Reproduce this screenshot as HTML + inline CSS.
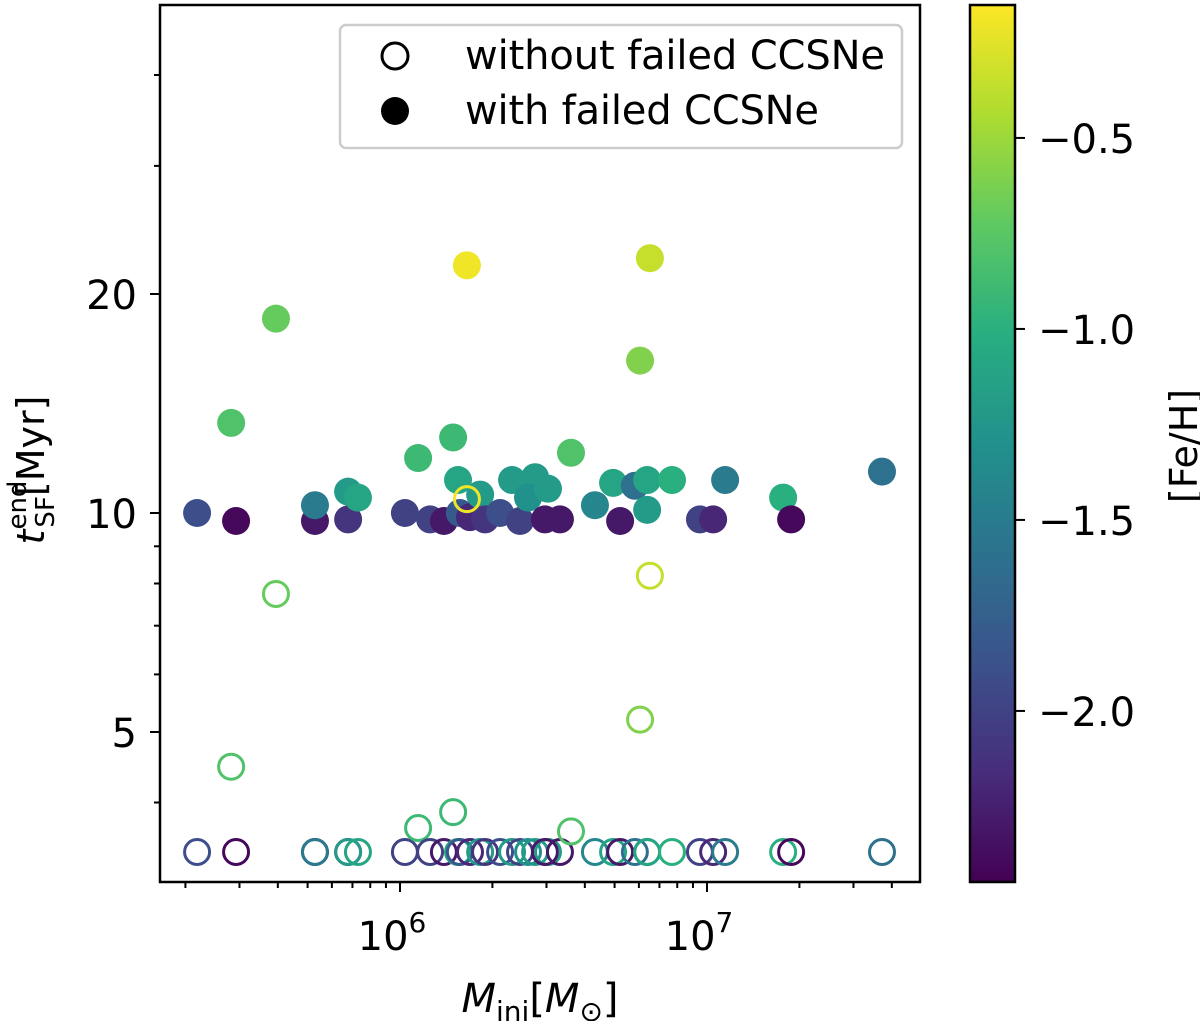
<!DOCTYPE html>
<html><head><meta charset="utf-8"><style>
body{margin:0;background:#fff}
svg text{font-family:"DejaVu Sans","Liberation Sans",sans-serif;fill:#000}
</style></head><body>
<svg id="chart" width="1200" height="1021" viewBox="0 0 1200 1021">
<defs>
<linearGradient id="vir" x1="0" y1="1" x2="0" y2="0">
<stop offset="0" stop-color="#440154"/><stop offset="0.125" stop-color="#472d7b"/><stop offset="0.25" stop-color="#3b528b"/><stop offset="0.375" stop-color="#2c728e"/><stop offset="0.5" stop-color="#21918c"/><stop offset="0.625" stop-color="#28ae80"/><stop offset="0.75" stop-color="#5ec962"/><stop offset="0.875" stop-color="#addc30"/><stop offset="1" stop-color="#fde725"/>
</linearGradient>
<clipPath id="clip"><rect x="160" y="5" width="760" height="877"/></clipPath>
</defs>
<g id="marks" clip-path="url(#clip)"></g>
<g id="axes"></g>
<rect x="160" y="5" width="760" height="877" fill="none" stroke="#000" stroke-width="2.5"/>
<g>
<rect x="340" y="25" width="562" height="123" rx="6" fill="#fff" fill-opacity="0.85" stroke="#ccc" stroke-width="2.5"/>
<circle cx="395" cy="56" r="13" fill="none" stroke="#000" stroke-width="3"/>
<text x="465" y="69" font-size="40" textLength="420">without failed CCSNe</text>
<circle cx="395" cy="111" r="14" fill="#000"/>
<text x="465" y="124" font-size="40" textLength="354">with failed CCSNe</text>
</g>
<rect x="970" y="5" width="45" height="877" fill="url(#vir)" stroke="#000" stroke-width="2.5"/>
<g id="cbar"></g>
<text transform="translate(1197,446) rotate(-90)" text-anchor="middle" font-size="38">[Fe/H]</text>
<text x="540" y="1012" text-anchor="middle" font-size="40"><tspan font-style="italic">M</tspan><tspan font-size="28" dy="9">ini</tspan><tspan dy="-9">[</tspan><tspan font-style="italic">M</tspan><tspan font-size="28" dy="9">⊙</tspan><tspan dy="-9">]</tspan></text>
<text transform="translate(44,470) rotate(-90)" text-anchor="middle" font-size="38"><tspan font-style="italic">t</tspan><tspan font-size="26" dy="-18">end</tspan><tspan font-size="26" dx="-47" dy="28">SF</tspan><tspan dy="-10">[Myr]</tspan></text>
</svg>
<script>
const logMassFilled=[5.339,5.466,5.596,5.450,5.723,5.723,5.831,5.831,5.863,6.016,6.059,6.098,6.143,6.173,6.189,6.218,6.195,6.228,6.261,6.277,6.326,6.365,6.391,6.440,6.417,6.482,6.472,6.521,6.557,6.635,6.694,6.717,6.765,6.782,6.814,6.805,6.805,6.886,6.977,7.020,7.059,7.248,7.274,7.570];
const tendFilled=[10,9.75,18.5,13.3,9.75,10.25,9.8,10.7,10.5,10,11.9,9.8,9.75,12.7,11.1,21.9,10,9.87,10.6,9.8,10,11.1,9.75,11.2,10.5,10.8,9.8,9.8,12.1,10.25,11.0,9.75,10.9,16.2,22.4,10.1,11.1,11.1,9.8,9.8,11.1,10.5,9.8,11.4];
const fehFilled=[-1.9,-2.4,-0.7,-0.8,-2.3,-1.5,-2.1,-1.2,-1.1,-2.0,-0.9,-2.0,-2.3,-0.9,-1.1,-0.2,-1.8,-2.2,-1.2,-2.1,-1.9,-1.2,-2.0,-1.2,-1.3,-1.2,-2.3,-2.3,-0.8,-1.4,-1.1,-2.3,-1.6,-0.6,-0.35,-1.2,-1.1,-1.0,-2.0,-2.2,-1.5,-1.0,-2.4,-1.6];
const tendOpen=[3.42,3.42,7.74,4.48,3.42,3.42,3.42,3.42,3.42,3.42,3.69,3.42,3.42,3.88,3.42,10.45,3.42,3.42,3.42,3.42,3.42,3.42,3.42,3.42,3.42,3.42,3.42,3.42,3.65,3.42,3.42,3.42,3.42,5.2,8.2,3.42,3.42,3.42,3.42,3.42,3.42,3.42,3.42,3.42];
const xTicks=[6,7];
const xTickLabels=["10","10"];
const yTicks=[5,10,20];
const yMinor=[3,4,6,7,8,9,30,40];
const cbarTicks=[-0.5,-1.0,-1.5,-2.0];
const cbarTickLabels=["−0.5","−1.0","−1.5","−2.0"];
const X=lm=>400+(lm-6)*307;
const Y=t=>513-Math.log10(t/10)*727.5;
const C=v=>5+(-0.152-v)*382;
const vstops=[[68,1,84],[71,45,123],[59,82,139],[44,114,142],[33,145,140],[40,174,128],[94,201,98],[173,220,48],[253,231,37]];
function vir(f){const lo=-2.448,hi=-0.152;let s=Math.max(0,Math.min(1,(f-lo)/(hi-lo)))*8;const i=Math.min(7,Math.floor(s)),r=s-i;const a=vstops[i],b=vstops[i+1];return `rgb(${a.map((v,k)=>Math.round(v+(b[k]-v)*r)).join(',')})`;}
const NS="http://www.w3.org/2000/svg";
function mk(tag,at,parent){const e=document.createElementNS(NS,tag);for(const k in at)e.setAttribute(k,at[k]);parent.appendChild(e);return e;}
const marks=document.getElementById('marks'),axes=document.getElementById('axes'),cb=document.getElementById('cbar');
logMassFilled.forEach((m,i)=>{const c=mk('circle',{cx:X(m),cy:Y(tendFilled[i]),r:14,fill:vir(fehFilled[i])},marks);

});
logMassFilled.forEach((m,i)=>{const c=mk('circle',{cx:X(m),cy:Y(tendOpen[i]),r:12.5,fill:'none',stroke:vir(fehFilled[i]),'stroke-width':3},marks);

});
for(let d=5;d<=7;d++)for(let k=1;k<10;k++){const lm=d+Math.log10(k);const x=X(lm);if(x<162||x>918)continue;const L=k==1?10:6;
const t=mk('line',{x1:x,x2:x,y1:882,y2:882+L,stroke:'#000','stroke-width':2},axes);

}
xTicks.forEach((v,i)=>{const t=mk('text',{x:X(v)-8,y:950,'text-anchor':'middle','font-size':40},axes);t.textContent=xTickLabels[i];
const s=mk('tspan',{dy:-18,'font-size':28},t);s.textContent=String(v);

});
yTicks.forEach(v=>{const y=Y(v);mk('line',{x1:150,x2:160,y1:y,y2:y,stroke:'#000','stroke-width':2},axes);
const t=mk('text',{x:137,y:y+15,'text-anchor':'end','font-size':40},axes);t.textContent=v;

});
yMinor.forEach(v=>{const y=Y(v);if(y<6||y>881)return;const l=mk('line',{x1:154,x2:160,y1:y,y2:y,stroke:'#000','stroke-width':2},axes);

});
cbarTicks.forEach((v,i)=>{const y=C(v);mk('line',{x1:1015,x2:1025,y1:y,y2:y,stroke:'#000','stroke-width':2},cb);
const t=mk('text',{x:1038,y:y+15,'font-size':40},cb);t.textContent=cbarTickLabels[i];

});
</script>
</body></html>
